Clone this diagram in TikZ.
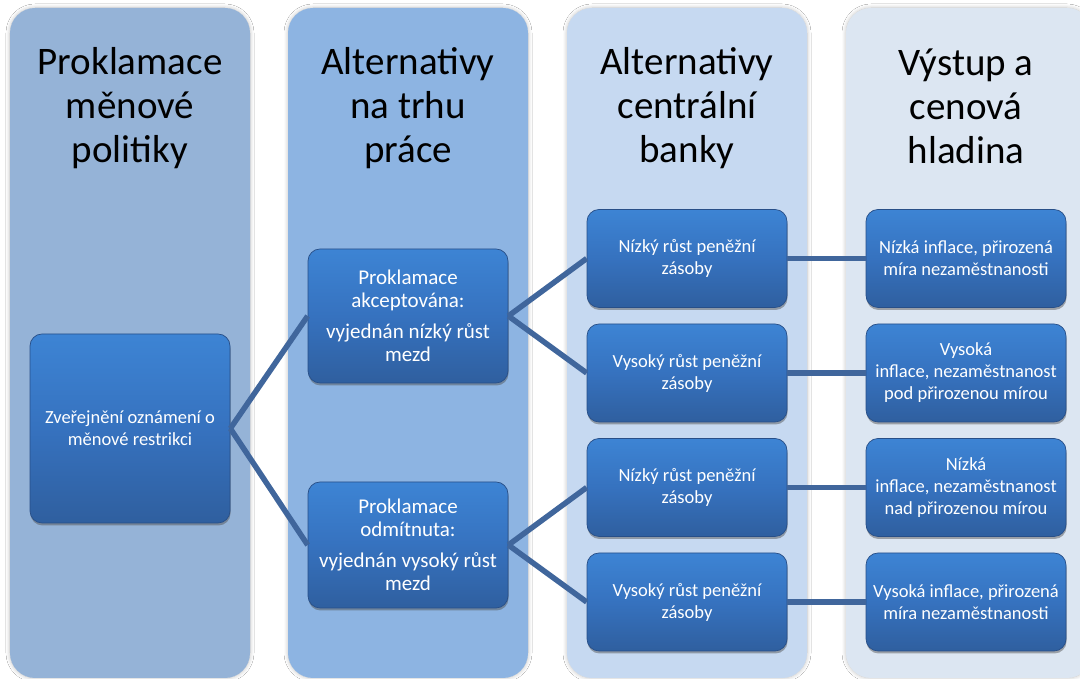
\documentclass[tikz,border=0pt]{standalone}
\usepackage{fontspec}
\setmainfont{Carlito}
\usetikzlibrary{shadows,shadows.blur}

\definecolor{colA}{HTML}{95B3D7}
\definecolor{colB}{HTML}{8DB4E2}
\definecolor{colC}{HTML}{C6D9F1}
\definecolor{colD}{HTML}{DCE6F2}
\definecolor{boxtop}{HTML}{3D84D4}
\definecolor{boxmid}{HTML}{3672BF}
\definecolor{boxbot}{HTML}{2F5F9F}
\definecolor{boxrim}{HTML}{284F88}
\definecolor{link}{HTML}{40669C}

\tikzset{
  lane/.style={rounded corners=25pt, blur shadow={shadow blur steps=6, shadow xshift=0pt, shadow yshift=0pt, shadow blur radius=4pt, shadow opacity=25}},
  head/.style={align=center, text=black, font=\fontsize{39}{44}\selectfont},
  card/.style={rounded corners=12pt, top color=boxtop, bottom color=boxbot, middle color=boxmid,
    draw=boxrim, line width=0.7pt, text=white, align=center, minimum width=200pt, inner sep=0pt,
    drop shadow={shadow xshift=0.5pt, shadow yshift=-2.5pt, opacity=0.45, fill=black!70},
    font=\fontsize{18.5}{22}\selectfont},
  bigcard/.style={card, font=\fontsize{21}{23.5}\selectfont},
  wire/.style={draw=link, line width=5.5pt}
}

\begin{document}
\begin{tikzpicture}[x=1pt,y=1pt]
\useasboundingbox (0,0) rectangle (1080,679);
\clip (0,0) rectangle (1080,679);
\fill[white] (0,0) rectangle (1080,679);

% background lanes
\fill[lane, colA] (10,1) rectangle (250,671);
\fill[lane, colB] (288,1) rectangle (528,671);
\fill[lane, colC] (567,1) rectangle (807,671);
\fill[lane, colD] (846,1) rectangle (1092,671);

% lane headings
\node[head] (h1) at (130,571) {Proklamace\\měnové\\politiky};
\node[head] (h2) at (408,571) {Alternativy\\na trhu\\práce};
\node[head] (h3) at (687,571) {Alternativy\\centrální\\banky};
\node[head] (h4) at (966,572.5) {Výstup a\\cenová\\hladina};

% first lane
\node[card, minimum height=189pt] (root) at (130,250.5) {Zveřejnění oznámení o\\měnové restrikci};

% second lane
\node[bigcard, minimum height=134pt] (acc) at (408,363) {Proklamace\\akceptována:\\[7pt]vyjednán nízký růst\\mezd};
\node[bigcard, minimum height=126pt] (rej) at (408,134) {Proklamace\\odmítnuta:\\[7pt]vyjednán vysoký růst\\mezd};

% third lane
\node[card, minimum height=98pt] (m1) at (687,420.5) {Nízký růst peněžní\\zásoby};
\node[card, minimum height=98pt] (m2) at (687,306) {Vysoký růst peněžní\\zásoby};
\node[card, minimum height=98pt] (m3) at (687,191.5) {Nízký růst peněžní\\zásoby};
\node[card, minimum height=98pt] (m4) at (687,77) {Vysoký růst peněžní\\zásoby};

% fourth lane
\node[card, minimum height=98pt] (o1) at (966,420.5) {Nízká inflace, přirozená\\míra nezaměstnanosti};
\node[card, minimum height=98pt] (o2) at (966,306) {Vysoká\\inflace, nezaměstnanost\\pod přirozenou mírou};
\node[card, minimum height=98pt] (o3) at (966,191.5) {Nízká\\inflace, nezaměstnanost\\nad přirozenou mírou};
\node[card, minimum height=98pt] (o4) at (966,77) {Vysoká inflace, přirozená\\míra nezaměstnanosti};

% connectors
\draw[wire] (root.east) -- (acc.west);
\draw[wire] (root.east) -- (rej.west);
\draw[wire] (acc.east) -- (m1.west);
\draw[wire] (acc.east) -- (m2.west);
\draw[wire] (rej.east) -- (m3.west);
\draw[wire] (rej.east) -- (m4.west);
\draw[wire] (m1.east) -- (o1.west);
\draw[wire] (m2.east) -- (o2.west);
\draw[wire] (m3.east) -- (o3.west);
\draw[wire] (m4.east) -- (o4.west);
\end{tikzpicture}
\end{document}
